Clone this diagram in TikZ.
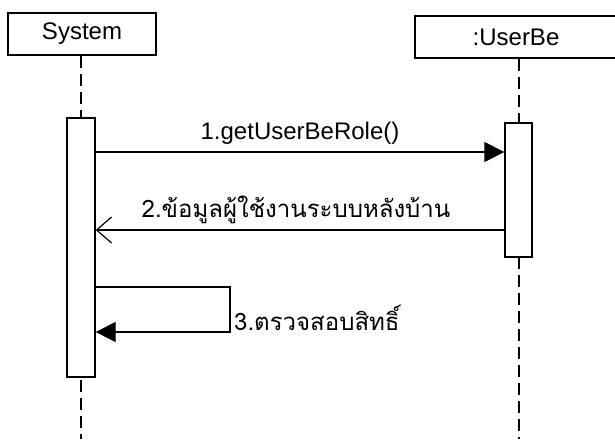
\documentclass[tikz,border=0pt]{standalone}
\usepackage{fontspec}
\setmainfont{Liberation Sans}
\newfontfamily\thaifont[Script=Thai]{Loma}
\usetikzlibrary{arrows.meta}

\tikzset{
  objbox/.style={draw, line width=1.5pt, minimum height=42pt, inner sep=0pt},
  actbox/.style={draw, line width=1.3pt, fill=white, inner sep=0pt},
  lifeline/.style={line width=1.2pt, dash pattern=on 12pt off 6pt},
  callmsg/.style={line width=1.3pt, -{Triangle[length=20pt,width=20pt]}},
  replymsg/.style={line width=1.2pt, -{Straight Barb[length=15pt,width=26pt,line width=1.2pt]}},
  msglabel/.style={inner sep=1pt}
}

\begin{document}
\begin{tikzpicture}[x=1pt, y=-1pt, font=\fontsize{24}{28}\selectfont]
\useasboundingbox (0,0) rectangle (615,439);

% Objects
\node[objbox, minimum width=148pt] (sys) at (82,34) {System};
\node[objbox, minimum width=202pt] (user) at (516,37) {:UserBe};

% Lifelines
\coordinate (sysend) at (81,439);
\coordinate (userend) at (519,439);
\draw[lifeline] (sys.south -| sysend) -- (sysend);
\draw[lifeline] (user.south -| userend) -- (userend);

% Activations
\node[actbox, minimum width=28pt, minimum height=259pt] (sysact) at (81,247.5) {};
\node[actbox, minimum width=27pt, minimum height=134pt] (useract) at (518.5,190) {};

% Message 1
\coordinate (m1) at (0,152);
\draw[callmsg] (sysact.east |- m1) -- (useract.west |- m1);
\node[msglabel] (lbl1) at (300,133) {1.getUserBeRole()};

% Message 2
\coordinate (m2) at (0,230);
\draw[replymsg] (useract.west |- m2) -- (sysact.east |- m2);
\node[msglabel] (lbl2) at (296,210) {\thaifont 2.ข้อมูลผู้ใช้งานระบบหลังบ้าน};

% Message 3 (self call)
\coordinate (m3a) at (230,287);
\coordinate (m3b) at (230,332);
\draw[callmsg] (sysact.east |- m3a) -- (m3a) -- (m3b) -- (sysact.east |- m3b);
\node[msglabel, anchor=west] (lbl3) at (233,318) {\thaifont 3.ตรวจสอบสิทธิ์};

\end{tikzpicture}
\end{document}
